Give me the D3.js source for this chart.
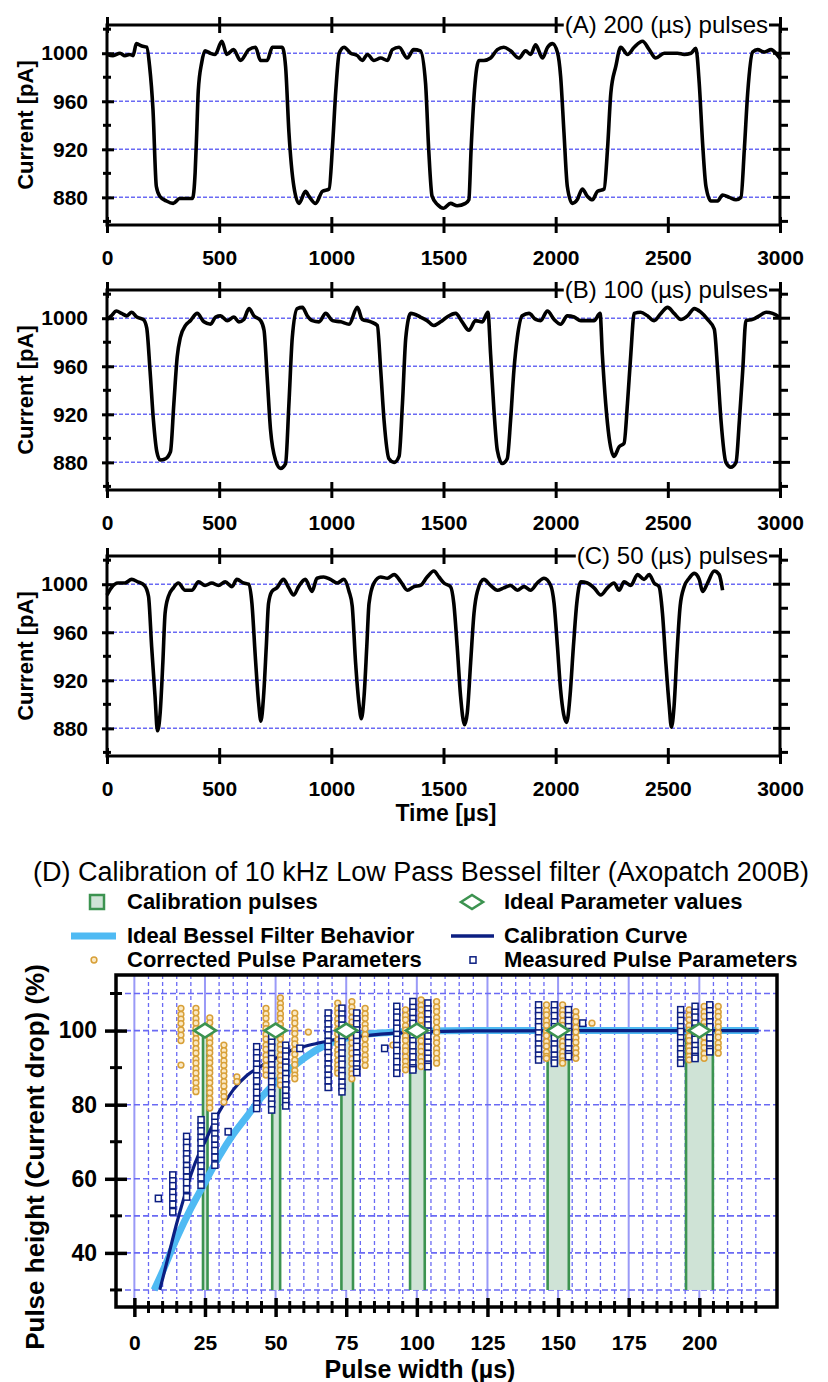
<!DOCTYPE html>
<html>
<head>
<meta charset="utf-8">
<script src="https://cdn.jsdelivr.net/npm/d3@7"></script>
<style>
body { margin: 0; background: #fff; }
svg { display: block; font-family: "Liberation Sans", Arial, sans-serif; }
</style>
</head>
<body>
<div id="chart"></div>
<script>
// ---- panels A-C : current traces (time in µs, current in pA) ----
const timeTicks = [0, 500, 1000, 1500, 2000, 2500, 3000];
const currentTicks = [1000, 960, 920, 880];
const currentMinor = [1020, 980, 940, 900, 860];

const traceA_t = [0,27,58,80,101,116,131,155,177,190,205,220,235,265,295,324,355,381,393,400,407,422,437,460,482,512,534,564,595,632,662,684,714,737,781,796,811,833,856,885,900,930,960,990,1005,1020,1035,1057,1086,1116,1138,1161,1190,1220,1250,1272,1302,1338,1367,1397,1420,1434,1449,1473,1501,1531,1561,1598,1613,1623,1638,1658,1680,1710,1740,1769,1799,1836,1866,1888,1911,1941,1964,1986,2009,2022,2037,2052,2074,2096,2119,2141,2164,2186,2216,2231,2246,2268,2290,2320,2350,2387,2417,2446,2484,2513,2543,2573,2603,2625,2640,2655,2670,2692,2722,2744,2774,2804,2826,2841,2856,2878,2900,2930,2960,2990,3003];
const traceA_pA = [999,998,1000,998,999,998,1008,1006,1005,989,953,889,881,877,875,879,879,879,901,934,969,992,1002,1000,999,1010,999,1003,994,1003,1005,994,994,1005,1005,989,934,889,875,885,881,875,885,887,922,969,1000,1005,1000,998,994,999,994,996,994,1003,1005,996,1003,1002,975,920,881,874,871,875,873,875,878,920,969,994,994,996,1003,1005,1002,996,1002,999,1007,996,1005,1008,1000,981,934,889,875,878,887,881,878,885,887,920,967,989,1005,999,1005,1010,1003,996,1000,1000,1000,999,1000,1004,975,925,889,877,877,882,880,878,880,920,967,1001,1003,1001,1003,998,995];

const traceB_t = [0,19,42,65,88,110,133,162,177,192,207,222,237,260,283,298,313,327,350,372,402,432,462,484,506,536,566,588,610,633,655,685,700,714,729,751,774,796,811,826,848,871,893,915,945,975,1005,1042,1079,1116,1138,1176,1205,1220,1235,1257,1280,1302,1317,1332,1354,1397,1427,1457,1487,1516,1554,1583,1613,1643,1673,1698,1710,1725,1740,1762,1784,1799,1814,1829,1851,1881,1911,1933,1963,1993,2022,2052,2082,2112,2141,2171,2198,2208,2223,2238,2260,2283,2305,2320,2335,2350,2379,2409,2439,2469,2499,2528,2558,2588,2618,2647,2677,2707,2722,2737,2759,2781,2804,2819,2834,2848,2878,2908,2938,2967,2997];
const traceB_pA = [999,1002,1006,1004,1002,1005,1001,999,992,956,915,889,882,883,889,929,968,984,994,998,1004,997,995,1001,1002,998,1001,997,999,1008,1002,998,990,951,907,882,875,879,929,984,1008,1009,1002,998,997,1004,998,997,995,1009,999,997,994,957,915,883,880,885,929,984,1004,1001,998,994,997,1001,1004,997,990,998,997,1005,970,923,890,879,883,915,957,984,1002,1004,999,998,1006,999,995,1002,1001,998,998,998,1004,970,929,901,885,893,896,929,970,1004,1005,1002,998,1004,1009,1004,999,1002,1008,1005,999,991,957,915,880,876,880,915,957,998,999,1002,1005,1004,1001];

const traceC_t = [0,19,49,79,110,137,167,185,199,214,225,237,249,259,274,296,318,348,378,408,437,467,497,527,557,579,609,631,646,661,676,686,698,710,720,735,757,787,810,832,854,884,914,936,966,996,1026,1056,1079,1093,1108,1123,1134,1146,1158,1168,1190,1220,1250,1280,1310,1339,1369,1397,1427,1457,1480,1502,1531,1546,1561,1576,1594,1606,1621,1636,1651,1680,1710,1740,1769,1799,1829,1859,1888,1918,1948,1978,1993,2008,2022,2049,2064,2079,2094,2112,2141,2171,2201,2231,2260,2283,2305,2335,2365,2394,2417,2439,2461,2476,2491,2506,2516,2528,2540,2555,2573,2595,2618,2640,2655,2677,2707,2729,2744];
const traceC_pA = [991,997,1001,1001,1004,1002,999,990,948,907,878,893,935,976,990,997,1001,995,995,1002,999,1001,999,1002,998,1004,1001,1000,984,940,901,886,907,948,984,994,997,1004,997,991,998,1004,994,1005,1006,1004,1001,1004,994,982,935,901,888,907,948,984,1001,1006,1005,1008,1002,995,998,999,1006,1011,1006,1001,998,984,948,907,883,893,935,976,994,1004,999,995,997,999,995,998,995,1001,1005,999,984,948,912,885,907,948,984,1002,1001,997,991,997,1001,995,1002,999,1008,1004,1008,1001,998,976,935,899,881,899,940,982,998,1005,1009,1004,994,1001,1011,1008,995];

// ---- panel D : calibration ----
const widthTicks = [0, 25, 50, 75, 100, 125, 150, 175, 200];
const heightTicks = [40, 60, 80, 100];
const pulseWidths = [25, 50, 75, 100, 150, 200];
const barLow = [24.3, 48.8, 73.3, 97.6, 146.3, 195.3];
const barHigh = [25.9, 51.6, 77.4, 102.8, 153.8, 204.8];
const idealHeight = [100, 100, 100, 100, 100, 100];

const besselX = [7, 10, 15, 20, 25, 30, 35, 40, 45, 50, 55, 60, 65, 70, 75, 80, 90, 100, 120, 160, 221];
const besselY = [30, 35, 44, 52, 59, 66, 72, 77, 82, 86, 89.5, 92.5, 95, 96.8, 98, 98.8, 99.5, 99.8, 100, 100, 100];

const calX = [9, 12, 15, 18, 20, 23, 25, 28, 30, 35, 40, 45, 50, 55, 60, 65, 70, 80, 90, 100, 120, 160, 221];
const calY = [30, 39, 48, 56, 61, 67, 70, 75, 78, 84, 88, 90.5, 92.5, 94.5, 95.7, 96.6, 97.4, 98.5, 99.2, 99.6, 99.9, 100, 100];

const correctedX = [16.5, 21.8, 26.7, 31.7, 36.3, 46.6, 51.7, 56.8, 61.6, 72.0, 77.0, 81.7, 91.5, 96.0, 101.5, 107.0, 145.9, 151.6, 156.3, 162.0, 196.4, 201.7, 206.7];
const correctedY = [
  [106, 104.4, 103.1, 101.9, 100.2, 98.8, 97.3, 90.7],
  [106, 104.8, 103.2, 102, 100.5, 99.3, 97.8, 96.6, 95.1, 93.9, 92.3, 91.2, 89.7, 88.5, 87, 85.9, 84.4, 83.5],
  [103.4, 102.1, 100.5, 99.3, 97.8, 96.7, 95.1, 94, 92.4, 91.3, 89.7, 88.6, 87, 85.9, 84.3, 83.2, 81.6, 80.5, 79.1],
  [96.1, 94.6, 93.4, 91.8, 90.6, 89, 87.8, 86.2, 85, 83.4, 82.2, 80.7],
  [87.5, 86.2],
  [106, 104.5, 103.3, 101.7, 100.5, 98.9, 97.7, 96.1, 94.9, 93.3, 92.1, 90.5, 89.3, 88],
  [108.8, 107.3, 106.1, 104.5, 103.3, 101.7, 100.5, 98.9, 97.7, 96.1, 94.9, 93.3, 92.1, 90.5, 89.3, 87.7, 86.5, 85.3],
  [104.7, 103.2, 102, 100.4, 99.2, 97.6, 96.4, 94.8, 93.6, 92, 90.8, 89.2, 88, 87],
  [99.6],
  [107.4, 105.9, 104.7, 103.1, 101.9, 100.3, 99.1, 97.5, 96.3, 94.7, 93.5, 91.9, 90.7, 89.5, 88.5],
  [107.8, 106.3, 105.1, 103.5, 102.3, 100.7, 99.5, 97.9, 96.7, 95.1, 93.9, 92.3, 91.1, 89.5, 88.3, 87],
  [106, 104.5, 103.3, 101.7, 100.5, 98.9, 97.7, 96.1, 94.9, 93.3, 92.1, 90.6],
  [96.1],
  [105.6, 104.1, 102.9, 101.3, 100.1, 98.5, 97.3, 95.7, 94.5, 92.9, 91.7, 90.3, 89.4],
  [108.3, 106.8, 105.6, 104, 102.8, 101.2, 100, 98.4, 97.2, 95.6, 94.4, 92.8, 91.6, 90.3],
  [107.8, 106.3, 105.1, 103.5, 102.3, 100.7, 99.5, 97.9, 96.7, 95.1, 93.9, 92.4, 91.2],
  [106.9, 105.4, 104.2, 102.6, 101.4, 99.8, 98.6, 97, 95.8, 94.2, 93, 92.5],
  [106.9, 105.4, 104.2, 102.6, 101.4, 99.8, 98.6, 97, 95.8, 94.2, 93, 91.8, 91.2],
  [105.1, 103.6, 102.4, 100.8, 99.6, 98, 96.8, 95.2, 94, 92.5],
  [102],
  [105.6, 104.1, 102.9, 101.3, 100.1, 98.5, 97.3, 95.7, 94.5, 93, 92.1],
  [106.5, 105, 103.8, 102.2, 101, 99.4, 98.2, 96.6, 95.4, 93.8, 92.5],
  [106.5, 105, 103.8, 102.2, 101, 99.4, 98.2, 96.6, 95.4, 93.9]
];

const measuredX = [8.5, 13.6, 18.5, 23.6, 28.5, 33.2, 43.3, 48.6, 53.6, 58.6, 68.6, 73.5, 78.7, 88.6, 92.9, 98.6, 103.9, 143.1, 148.7, 153.7, 158.7, 193.4, 198.5, 203.7];
const measuredY = [
  [54.7],
  [61, 59.4, 58.1, 56.3, 54.9, 53.1, 51.1],
  [71.4, 69.8, 68.4, 66.7, 65.3, 63.5, 62.2, 60.4, 59, 57.2, 55.1],
  [75.9, 74.2, 72.9, 71.1, 69.8, 68, 66.6, 64.9, 63.5, 61.7, 60.3, 58.3],
  [76.8, 75.2, 73.9, 72.1, 70.7, 69, 67.6, 65.8, 63.7],
  [72.7],
  [95.6, 94, 92.6, 90.9, 89.5, 87.7, 86.4, 84.6, 83.3, 81.5, 80.2, 79],
  [98.4, 96.8, 95.5, 93.7, 92.4, 90.7, 89.3, 87.6, 86.2, 84.5, 83.2, 81.4, 80.1, 78.6],
  [96, 94.4, 93.1, 91.4, 90.1, 88.3, 87, 85.3, 83.9, 82.2, 80.9, 79.7],
  [95.2],
  [104.7, 103.1, 101.8, 100.1, 98.8, 97, 95.7, 94, 92.7, 90.9, 89.6, 87.9, 86.5, 84.7],
  [106, 104.4, 103.1, 101.4, 100, 98.3, 97, 95.3, 93.9, 92.2, 90.9, 89.1, 87.8, 86, 84.7, 83.5],
  [104.7, 103.1, 101.8, 100.1, 98.7, 97, 95.7, 93.9, 92.6, 90.9, 89.6, 88.7],
  [95.2],
  [106.5, 104.9, 103.6, 101.9, 100.6, 98.9, 97.6, 95.9, 94.6, 92.9, 91.6, 89.9, 88.5],
  [107.8, 106.2, 104.9, 103.2, 101.9, 100.2, 98.9, 97.2, 95.9, 94.2, 92.9, 91.2, 89.9, 89.4],
  [107.4, 105.8, 104.5, 102.8, 101.5, 99.8, 98.5, 96.8, 95.5, 93.8, 92.5, 90.9, 90.3],
  [106.9, 105.3, 104, 102.3, 101, 99.3, 98, 96.3, 95, 93.3, 92.1],
  [106.9, 105.3, 104, 102.3, 101, 99.3, 98, 96.3, 95, 93.3, 92, 91.2],
  [105.6, 104, 102.7, 101, 99.7, 98, 96.7, 95, 93.7, 93],
  [102],
  [105.6, 104, 102.7, 101, 99.7, 98, 96.7, 95, 93.7, 92, 91.2],
  [106.5, 104.9, 103.6, 101.9, 100.6, 98.9, 97.6, 95.9, 94.6, 93, 92.5],
  [106.9, 105.3, 104, 102.3, 101, 99.3, 98, 96.3, 95, 94.3]
];

const legendLabels = ["Calibration pulses", "Ideal Parameter values", "Ideal Bessel Filter Behavior", "Calibration Curve", "Corrected Pulse Parameters", "Measured Pulse Parameters"];

// ---- drawing ----
const W = 828, H = 1382;
const gridBlue = "#6a6af4";
const green = "#3c9350", greenFill = "#cfe3d6";
const skyBlue = "#4fbaf3", navy = "#0c1f82", gold = "#d8a038";

const svg = d3.select("#chart").append("svg")
  .attr("width", W)
  .attr("height", H);

function tracePanel(top, times, currents, title, withTimeLabel) {
  const bottom = top + 200;
  const left = 107, right = 780;
  const x = d3.scaleLinear().domain([0, 3000]).range([left, right]);
  const y = d3.scaleLinear().domain([857, 1023.5]).range([bottom, top]);
  const g = svg.append("g");

  g.selectAll(".hgrid").data(currentTicks).enter().append("line")
    .attr("x1", left).attr("x2", right)
    .attr("y1", d => y(d)).attr("y2", d => y(d))
    .attr("stroke", gridBlue).attr("stroke-width", 1.5)
    .attr("stroke-dasharray", "4,2");

  const line = d3.line()
    .x(d => x(d[0]))
    .y(d => y(d[1]))
    .curve(d3.curveMonotoneX);

  g.append("path")
    .datum(d3.zip(times, currents))
    .attr("d", line)
    .attr("fill", "none")
    .attr("stroke", "#000")
    .attr("stroke-width", 3.6)
    .attr("stroke-linejoin", "round");

  // frame
  g.append("rect")
    .attr("x", left).attr("y", top)
    .attr("width", right - left).attr("height", bottom - top)
    .attr("fill", "none").attr("stroke", "#000").attr("stroke-width", 3);

  // bottom axis with labels
  const xb = g.append("g").attr("transform", "translate(0," + bottom + ")")
    .call(d3.axisBottom(x).tickValues(timeTicks).tickSizeOuter(0).tickFormat(d3.format("d")));
  xb.select(".domain").remove();
  xb.selectAll(".tick line").attr("y1", -8).attr("y2", 8).attr("stroke-width", 3);
  xb.selectAll("text").attr("y", 25).attr("font-size", 21).attr("font-weight", "bold").attr("fill", "#000");

  const xt = g.append("g").attr("transform", "translate(0," + top + ")")
    .call(d3.axisTop(x).tickValues(timeTicks).tickSizeOuter(0).tickFormat(""));
  xt.select(".domain").remove();
  xt.selectAll(".tick line").attr("y1", -8).attr("y2", 8).attr("stroke-width", 3);

  // left axis
  const yl = g.append("g").attr("transform", "translate(" + left + ",0)")
    .call(d3.axisLeft(y).tickValues(currentTicks).tickSizeOuter(0).tickFormat(d3.format("d")));
  yl.select(".domain").remove();
  yl.selectAll(".tick line").attr("x1", -5).attr("x2", 7).attr("stroke-width", 3);
  yl.selectAll("text").attr("x", -19).attr("font-size", 21).attr("font-weight", "bold").attr("fill", "#000");
  g.selectAll(".lminor").data(currentMinor).enter().append("line")
    .attr("x1", left - 4).attr("x2", left + 4)
    .attr("y1", d => y(d)).attr("y2", d => y(d))
    .attr("stroke", "#000").attr("stroke-width", 3);

  // right axis
  g.selectAll(".rmajor").data(currentTicks).enter().append("line")
    .attr("x1", right - 7).attr("x2", right + 10)
    .attr("y1", d => y(d)).attr("y2", d => y(d))
    .attr("stroke", "#000").attr("stroke-width", 3);
  g.selectAll(".rminor").data(currentMinor).enter().append("line")
    .attr("x1", right).attr("x2", right + 8)
    .attr("y1", d => y(d)).attr("y2", d => y(d))
    .attr("stroke", "#000").attr("stroke-width", 3);

  g.append("text")
    .attr("transform", "translate(25," + (top + 100) + ") rotate(-90)")
    .attr("text-anchor", "middle")
    .attr("dominant-baseline", "central")
    .attr("font-size", 22).attr("font-weight", "bold")
    .text("Current [pA]");

  // panel title over the top axis, on a white patch
  const patch = g.append("rect").attr("fill", "#fff");
  const tt = g.append("text")
    .attr("x", 768).attr("y", top + 8)
    .attr("text-anchor", "end")
    .attr("font-size", 24)
    .text(title);
  const bb = tt.node().getBBox();
  patch.attr("x", bb.x - 1).attr("y", top - 12)
    .attr("width", bb.width + 2).attr("height", 20);

  if (withTimeLabel) {
    g.append("text")
      .attr("x", 446).attr("y", bottom + 65)
      .attr("text-anchor", "middle")
      .attr("font-size", 23).attr("font-weight", "bold")
      .text("Time [µs]");
  }
}

tracePanel(25, traceA_t, traceA_pA, "(A) 200 (µs) pulses", false);
tracePanel(290, traceB_t, traceB_pA, "(B) 100 (µs) pulses", false);
tracePanel(556, traceC_t, traceC_pA, "(C) 50 (µs) pulses", true);

// ---- panel D ----
function calibrationPanel() {
  const left = 116, right = 777, top = 975, bottom = 1307;
  const x = d3.scaleLinear().domain([-6.5, 227.5]).range([left, right]);
  const y = d3.scaleLinear().domain([25.4, 115]).range([bottom, top]);
  const g = svg.append("g");

  g.append("text")
    .attr("x", 421).attr("y", 881)
    .attr("text-anchor", "middle")
    .attr("font-size", 27)
    .text("(D) Calibration of 10 kHz Low Pass Bessel filter (Axopatch 200B)");

  // grid
  const minorX = d3.range(5, 225, 5).filter(d => d % 25 !== 0);
  g.selectAll(".vdash").data(minorX).enter().append("line")
    .attr("x1", d => x(d)).attr("x2", d => x(d))
    .attr("y1", top).attr("y2", bottom - 8)
    .attr("stroke", gridBlue).attr("stroke-width", 1.3)
    .attr("stroke-dasharray", "4,3");
  g.selectAll(".vsolid").data(widthTicks).enter().append("line")
    .attr("x1", d => x(d)).attr("x2", d => x(d))
    .attr("y1", top).attr("y2", bottom - 8)
    .attr("stroke", "#9a9af7").attr("stroke-width", 2);
  g.selectAll(".hdash").data([110, 100, 80, 60, 50, 40, 30]).enter().append("line")
    .attr("x1", left).attr("x2", right)
    .attr("y1", d => y(d)).attr("y2", d => y(d))
    .attr("stroke", gridBlue).attr("stroke-width", 1.6)
    .attr("stroke-dasharray", "6,3");

  // calibration pulse bars
  pulseWidths.forEach((p, i) => {
    g.append("rect")
      .attr("x", x(barLow[i])).attr("y", y(100))
      .attr("width", x(barHigh[i]) - x(barLow[i]))
      .attr("height", y(30) - y(100))
      .attr("fill", greenFill);
    [barLow[i], barHigh[i]].forEach(v => {
      g.append("line")
        .attr("x1", x(v)).attr("x2", x(v))
        .attr("y1", y(100)).attr("y2", y(30))
        .attr("stroke", green).attr("stroke-width", 2.6);
    });
  });

  const line = d3.line().x(d => x(d[0])).y(d => y(d[1])).curve(d3.curveMonotoneX);
  g.append("path").datum(d3.zip(besselX, besselY)).attr("d", line)
    .attr("fill", "none").attr("stroke", skyBlue).attr("stroke-width", 7).attr("stroke-linecap", "butt");
  g.append("path").datum(d3.zip(calX, calY)).attr("d", line)
    .attr("fill", "none").attr("stroke", navy).attr("stroke-width", 3.2);

  // scatter columns
  const corr = [];
  correctedX.forEach((cx, i) => correctedY[i].forEach(v => corr.push([cx, v])));
  const meas = [];
  measuredX.forEach((cx, i) => measuredY[i].forEach(v => meas.push([cx, v])));

  g.selectAll(".corr").data(corr).enter().append("circle")
    .attr("cx", d => x(d[0])).attr("cy", d => y(d[1]))
    .attr("r", 2.9)
    .attr("fill", "#fbe9c4").attr("stroke", gold).attr("stroke-width", 1.5);
  g.selectAll(".meas").data(meas).enter().append("rect")
    .attr("x", d => x(d[0]) - 3).attr("y", d => y(d[1]) - 3.2)
    .attr("width", 6).attr("height", 6.4)
    .attr("fill", "#fff").attr("stroke", navy).attr("stroke-width", 1.5);

  // ideal parameter diamonds
  g.selectAll(".ideal").data(d3.zip(pulseWidths, idealHeight)).enter().append("path")
    .attr("transform", d => "translate(" + x(d[0]) + "," + y(d[1]) + ")")
    .attr("d", "M-11,0L0,-7L11,0L0,7Z")
    .attr("fill", "#fff").attr("stroke", green).attr("stroke-width", 2.6);

  // frame
  g.append("rect")
    .attr("x", left).attr("y", top)
    .attr("width", right - left).attr("height", bottom - top)
    .attr("fill", "none").attr("stroke", "#000").attr("stroke-width", 3.5);

  // x axis
  const xa = g.append("g").attr("transform", "translate(0," + bottom + ")")
    .call(d3.axisBottom(x).tickValues(widthTicks).tickSizeOuter(0));
  xa.select(".domain").remove();
  xa.selectAll(".tick line").attr("y1", -9).attr("y2", 10).attr("stroke-width", 3.5);
  xa.selectAll("text").attr("y", 28).attr("font-size", 21).attr("font-weight", "bold").attr("fill", "#000");
  g.selectAll(".xminor").data(d3.range(5, 225, 5).filter(d => d % 25 !== 0)).enter().append("line")
    .attr("x1", d => x(d)).attr("x2", d => x(d))
    .attr("y1", bottom - 6).attr("y2", bottom + 6)
    .attr("stroke", "#000").attr("stroke-width", 3);

  // y axis
  const ya = g.append("g").attr("transform", "translate(" + left + ",0)")
    .call(d3.axisLeft(y).tickValues(heightTicks).tickSizeOuter(0));
  ya.select(".domain").remove();
  ya.selectAll(".tick line").attr("x1", -11).attr("x2", 11).attr("stroke-width", 3.5);
  ya.selectAll("text").attr("x", -19).attr("font-size", 23).attr("font-weight", "bold").attr("fill", "#000");
  g.selectAll(".yminor").data([30, 50, 70, 90, 110]).enter().append("line")
    .attr("x1", left - 6).attr("x2", left + 6)
    .attr("y1", d => y(d)).attr("y2", d => y(d))
    .attr("stroke", "#000").attr("stroke-width", 3);

  g.append("text")
    .attr("transform", "translate(35,1157) rotate(-90)")
    .attr("text-anchor", "middle")
    .attr("dominant-baseline", "central")
    .attr("font-size", 26).attr("font-weight", "bold")
    .text("Pulse height (Current drop) (%)");
  g.append("text")
    .attr("x", 420).attr("y", 1378)
    .attr("text-anchor", "middle")
    .attr("font-size", 25).attr("font-weight", "bold")
    .text("Pulse width (µs)");

  // legend
  const lg = g.append("g");
  const rows = [902, 936, 960];
  const cols = [127, 504];
  legendLabels.forEach((t, i) => {
    lg.append("text")
      .attr("x", cols[i % 2]).attr("y", rows[Math.floor(i / 2)] + 7)
      .attr("font-size", 22).attr("font-weight", "bold")
      .text(t);
  });
  lg.append("rect").attr("x", 90).attr("y", 895).attr("width", 14).attr("height", 14)
    .attr("fill", greenFill).attr("stroke", green).attr("stroke-width", 2.5);
  lg.append("path").attr("transform", "translate(472,902)").attr("d", "M-11,0L0,-7L11,0L0,7Z")
    .attr("fill", "#fff").attr("stroke", green).attr("stroke-width", 2.6);
  lg.append("line").attr("x1", 71).attr("x2", 116).attr("y1", 936).attr("y2", 936)
    .attr("stroke", skyBlue).attr("stroke-width", 7);
  lg.append("line").attr("x1", 451).attr("x2", 494).attr("y1", 936).attr("y2", 936)
    .attr("stroke", navy).attr("stroke-width", 3.5);
  lg.append("circle").attr("cx", 94).attr("cy", 960).attr("r", 2.9)
    .attr("fill", "#fbe9c4").attr("stroke", gold).attr("stroke-width", 1.5);
  lg.append("rect").attr("x", 470).attr("y", 956.8).attr("width", 6).attr("height", 6.4)
    .attr("fill", "#fff").attr("stroke", navy).attr("stroke-width", 1.5);
}

calibrationPanel();
</script>
</body>
</html>
